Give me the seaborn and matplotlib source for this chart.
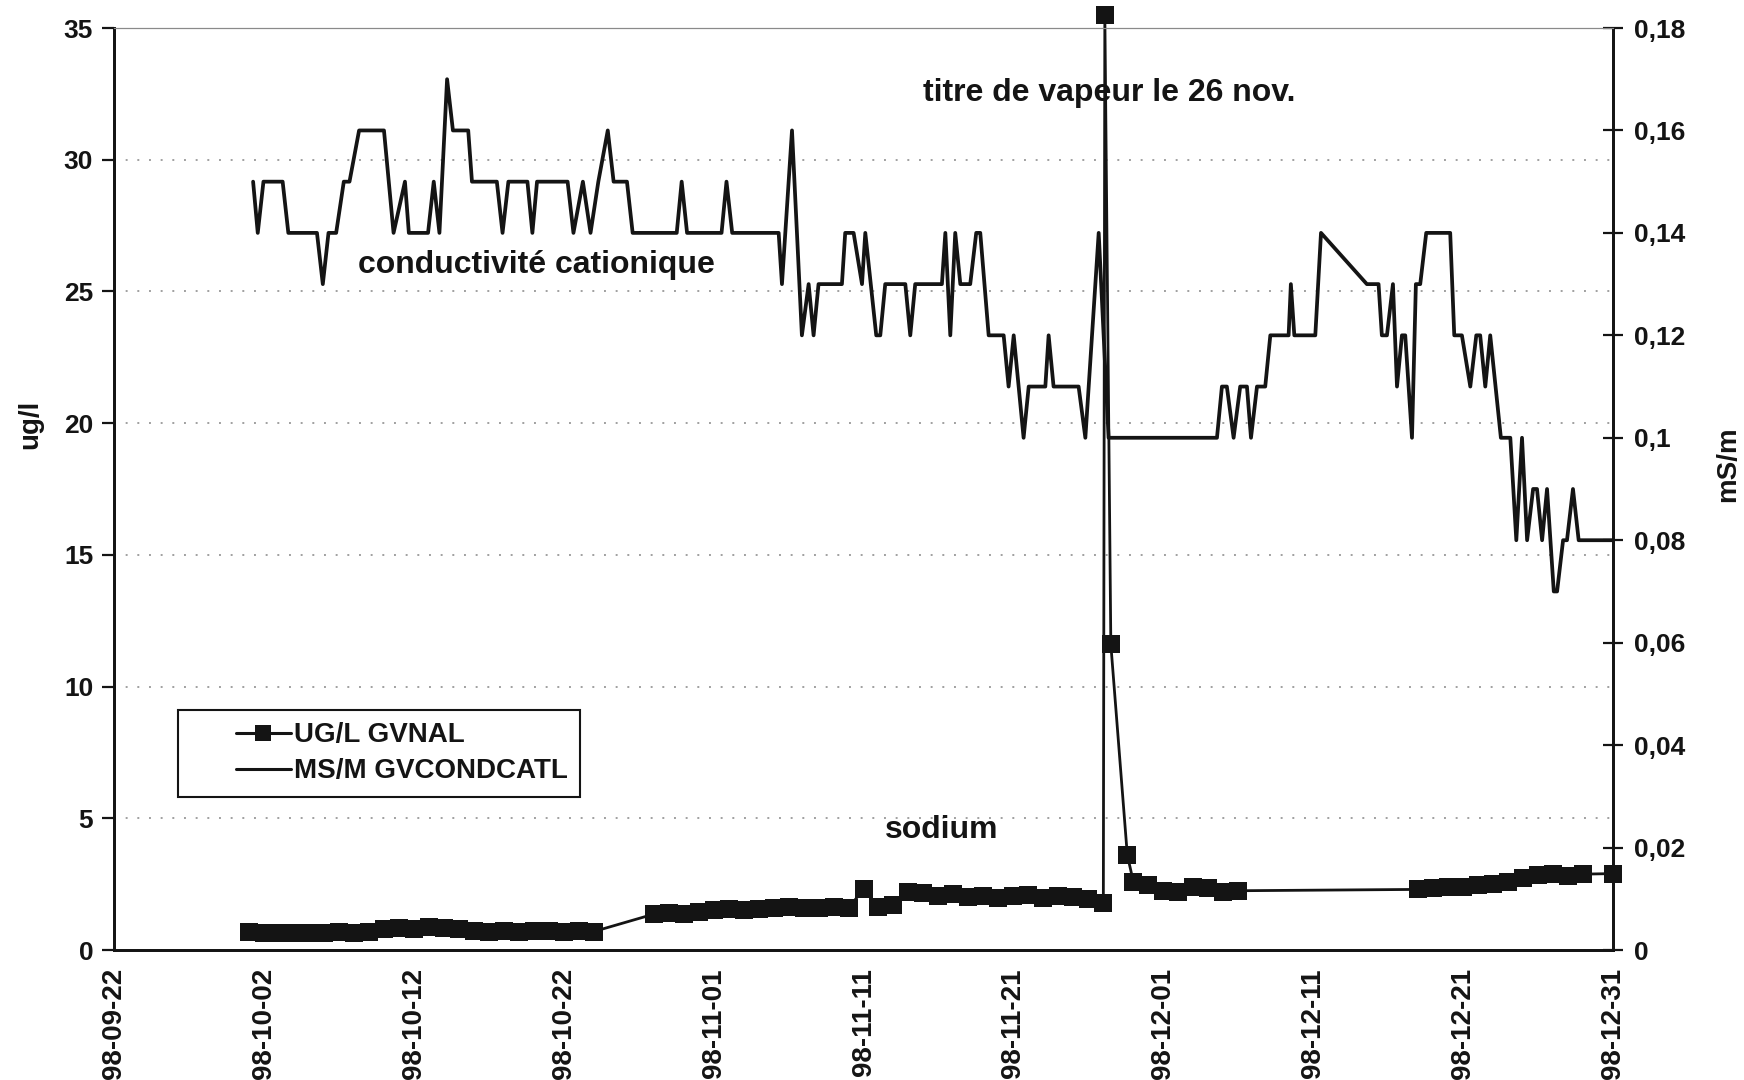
import numpy as np
import pandas as pd
import matplotlib
matplotlib.use("Agg")
import matplotlib.pyplot as plt
import matplotlib.dates as mdates
from matplotlib.lines import Line2D
from matplotlib.legend_handler import HandlerLine2D
from matplotlib.ticker import FixedLocator, FuncFormatter
import seaborn as sns

# ---------------- data ----------------
START = pd.Timestamp("1998-09-22")

# Sodium (ug/l) : daily readings per measuring campaign (day offsets from START)
na_seg1_first_day = 9      # 98-10-01
na_seg1 = [0.68, 0.66, 0.64, 0.66, 0.63, 0.66, 0.67, 0.64, 0.70,
           0.78, 0.84, 0.80, 0.86, 0.82, 0.78,
           0.74, 0.70, 0.72, 0.69, 0.73, 0.71, 0.68, 0.72, 0.70]
na_seg2_first_day = 36     # 98-10-28
na_seg2 = [1.36, 1.42, 1.38, 1.45, 1.52, 1.56, 1.50, 1.55, 1.58,
           1.62, 1.60, 1.58, 1.65, 1.60, 2.30, 1.62, 1.70,
           2.20, 2.15, 2.05, 2.12, 2.00, 2.06, 1.98, 2.04, 2.08, 1.96,
           2.04, 2.00, 1.92, 1.80]
na_event_days = [66.1, 66.5, 67.6]          # steam quality event, 26-27 nov.
na_event_vals = [35.5, 11.6, 3.6]
na_seg3_first_day = 68     # 98-11-29
na_seg3 = [2.60, 2.45, 2.25, 2.20, 2.40, 2.35, 2.20, 2.25]
na_seg4_first_day = 87     # 98-12-18
na_seg4 = [2.30, 2.35, 2.40, 2.38, 2.45, 2.50, 2.60, 2.75, 2.85, 2.90, 2.82, 2.88]
na_last_day = 100          # 98-12-31
na_last_val = 2.90

# Cationic conductivity (mS/m): (day offset from START, value)
cond_days = [9.28, 9.59, 9.97, 11.25, 11.63, 13.54, 13.93, 14.31, 14.82, 15.33, 15.71,
             16.35, 18.01, 18.65, 19.41, 19.67, 20.95, 21.33, 21.71, 22.22, 22.61,
             23.63, 23.88, 25.54, 25.92, 26.31, 27.58, 27.91, 28.22, 30.26, 30.65,
             31.28, 31.79, 32.31, 32.94, 33.33, 34.22, 34.60, 37.54, 37.87, 38.23,
             40.53, 40.86, 41.24, 44.34, 44.56, 45.23, 45.89, 46.34, 46.67, 47.00,
             48.56, 48.78, 49.34, 49.90, 50.12, 50.85, 51.12, 51.45, 52.79, 53.12,
             53.45, 55.23, 55.46, 55.79, 56.12, 56.46, 57.12, 57.52, 57.79, 58.35,
             59.35, 59.68, 60.02, 60.68, 61.02, 62.13, 62.35, 62.68, 64.35, 64.80,
             65.69, 66.35, 73.58, 73.91, 74.24, 74.69, 75.13, 75.58, 75.85, 76.25,
             76.80, 77.14, 78.36, 78.51, 78.74, 80.14, 80.52, 83.58, 84.36, 84.58,
             84.92, 85.32, 85.59, 85.92, 86.14, 86.59, 86.85, 87.14, 87.54, 89.14,
             89.41, 89.92, 90.48, 90.88, 91.14, 91.48, 91.81, 92.52, 93.15, 93.55,
             93.93, 94.27, 94.67, 94.93, 95.27, 95.60, 96.05, 96.27, 96.67, 96.93,
             97.33, 97.71, 100.0]
cond_vals = [0.15, 0.14, 0.15, 0.15, 0.14, 0.14, 0.13, 0.14, 0.14, 0.15, 0.15,
             0.16, 0.16, 0.14, 0.15, 0.14, 0.14, 0.15, 0.14, 0.17, 0.16,
             0.16, 0.15, 0.15, 0.14, 0.15, 0.15, 0.14, 0.15, 0.15, 0.14,
             0.15, 0.14, 0.15, 0.16, 0.15, 0.15, 0.14, 0.14, 0.15, 0.14,
             0.14, 0.15, 0.14, 0.14, 0.13, 0.16, 0.12, 0.13, 0.12, 0.13,
             0.13, 0.14, 0.14, 0.13, 0.14, 0.12, 0.12, 0.13, 0.13, 0.12,
             0.13, 0.13, 0.14, 0.12, 0.14, 0.13, 0.13, 0.14, 0.14, 0.12,
             0.12, 0.11, 0.12, 0.10, 0.11, 0.11, 0.12, 0.11, 0.11, 0.10,
             0.14, 0.10, 0.10, 0.11, 0.11, 0.10, 0.11, 0.11, 0.10, 0.11,
             0.11, 0.12, 0.12, 0.13, 0.12, 0.12, 0.14, 0.13, 0.13, 0.12,
             0.12, 0.13, 0.11, 0.12, 0.12, 0.10, 0.13, 0.13, 0.14, 0.14,
             0.12, 0.12, 0.11, 0.12, 0.12, 0.11, 0.12, 0.10, 0.10, 0.08,
             0.10, 0.08, 0.09, 0.09, 0.08, 0.09, 0.07, 0.07, 0.08, 0.08,
             0.09, 0.08, 0.08]

left_ticks = [0, 5, 10, 15, 20, 25, 30, 35]
right_ticks = [0, 0.02, 0.04, 0.06, 0.08, 0.10, 0.12, 0.14, 0.16, 0.18]

legend_labels = ["UG/L GVNAL", "MS/M GVCONDCATL"]
ylabel_left = "ug/l"
ylabel_right = "mS/m"
note_event = "titre de vapeur le 26 nov."
note_cond = "conductivité cationique"
note_na = "sodium"

# ---------------- tables ----------------
def seg(first, vals):
    return [first + i for i in range(len(vals))], list(vals)

d1, v1 = seg(na_seg1_first_day, na_seg1)
d2, v2 = seg(na_seg2_first_day, na_seg2)
d3, v3 = seg(na_seg3_first_day, na_seg3)
d4, v4 = seg(na_seg4_first_day, na_seg4)
na_days = d1 + d2 + na_event_days + d3 + d4 + [na_last_day]
na_vals = v1 + v2 + na_event_vals + v3 + v4 + [na_last_val]
na_df = pd.DataFrame({"date": START + pd.to_timedelta(na_days, unit="D"), "val": na_vals})
cond_df = pd.DataFrame({"date": START + pd.to_timedelta(cond_days, unit="D"), "val": cond_vals})

# ---------------- style ----------------
sns.set_theme(style="white")
plt.rcParams["font.family"] = ["Liberation Sans", "DejaVu Sans"]
plt.rcParams["font.weight"] = "bold"
INK = "#141414"

fig = plt.figure(figsize=(17.44, 10.8), dpi=100)
fig.patch.set_facecolor("white")
ax = fig.add_axes([114 / 1744, 1 - 950 / 1080, (1613 - 114) / 1744, (950 - 28) / 1080])
ax2 = ax.twinx()

# sodium
sns.lineplot(data=na_df, x="date", y="val", ax=ax, sort=False, estimator=None,
             color=INK, lw=2.0, marker="s", markersize=13, markeredgewidth=0,
             clip_on=False, zorder=3, legend=False)
# conductivity
sns.lineplot(data=cond_df, x="date", y="val", ax=ax2, sort=False, estimator=None,
             color=INK, lw=2.7, zorder=3, legend=False)

# axes limits / ticks
xmin, xmax = START, START + pd.Timedelta(days=100)
ax.set_xlim(xmin, xmax)
ax.set_ylim(0, 35)
ax2.set_ylim(0, 0.18)
xt = pd.date_range(xmin, xmax, freq="10D")
ax.xaxis.set_major_locator(FixedLocator(mdates.date2num(xt)))
ax.xaxis.set_major_formatter(mdates.DateFormatter("%y-%m-%d"))
ax.set_yticks(left_ticks)
ax2.set_yticks(right_ticks)
ax2.yaxis.set_major_formatter(FuncFormatter(lambda v, p: ("%g" % round(v, 3)).replace(".", ",")))

for lab in ax.get_xticklabels():
    lab.set_rotation(90)
ax.tick_params(axis="x", direction="inout", length=14, width=1.6, color=INK,
               labelsize=20, pad=6, labelcolor=INK)
ax.tick_params(axis="y", direction="out", length=9, width=1.6, color=INK,
               labelsize=19, pad=6, labelcolor=INK, left=True)
ax2.tick_params(axis="y", direction="inout", length=14, width=1.6, color=INK,
                labelsize=19, pad=8, labelcolor=INK, right=True)
for t in ax.get_xticklabels() + ax.get_yticklabels() + ax2.get_yticklabels():
    t.set_fontweight("bold")

# grid
ax.set_axisbelow(True)
ax.yaxis.grid(True, linestyle=(0, (1, 5)), color="#a0a0a0", lw=1.4)
ax.xaxis.grid(False)

# spines
for a in (ax, ax2):
    for s in ("left", "bottom", "right"):
        a.spines[s].set_linewidth(2.0)
        a.spines[s].set_color(INK)
    a.spines["top"].set_linewidth(0.8)
    a.spines["top"].set_color("#8a8a8a")

ax.set_xlabel("")
ax.set_ylabel(ylabel_left, fontsize=20, fontweight="bold", color=INK)
ax.yaxis.set_label_coords(-0.047, 0.57)
ax2.set_ylabel(ylabel_right, fontsize=20, fontweight="bold", color=INK, rotation=90)
ax2.yaxis.set_label_coords(1.068, 0.527)

# annotations
ax.text(0.540, 0.930, note_event, transform=ax.transAxes, fontsize=23,
        fontweight="bold", color=INK, va="center", ha="left")
ax.text(0.163, 0.743, note_cond, transform=ax.transAxes, fontsize=23,
        fontweight="bold", color=INK, va="center", ha="left")
ax.text(0.514, 0.130, note_na, transform=ax.transAxes, fontsize=23,
        fontweight="bold", color=INK, va="center", ha="left")


# legend: handle line drawn only on the right part of the handle box
class ShiftedLine(HandlerLine2D):
    def get_xdata(self, legend, xdescent, ydescent, width, height, fontsize):
        x0 = -xdescent + 0.45 * width
        x1 = -xdescent + width
        return np.array([x0, x1]), np.array([(x0 + x1) / 2])


handles = [Line2D([], [], color=INK, lw=2.2, marker="s", markersize=11, markeredgewidth=0),
           Line2D([], [], color=INK, lw=2.2)]
leg = ax2.legend(handles, legend_labels, loc="lower left", bbox_to_anchor=(0.0427, 0.166),
                 frameon=True, fancybox=False, edgecolor=INK, framealpha=1,
                 prop={"weight": "bold", "size": 20}, handlelength=3.6,
                 handletextpad=0.12, borderpad=0.45, labelspacing=0.36, borderaxespad=0,
                 handler_map={Line2D: ShiftedLine()})
leg.get_frame().set_linewidth(1.5)
for t in leg.get_texts():
    t.set_color(INK)

fig.savefig("out.png", dpi=100, facecolor="white")
